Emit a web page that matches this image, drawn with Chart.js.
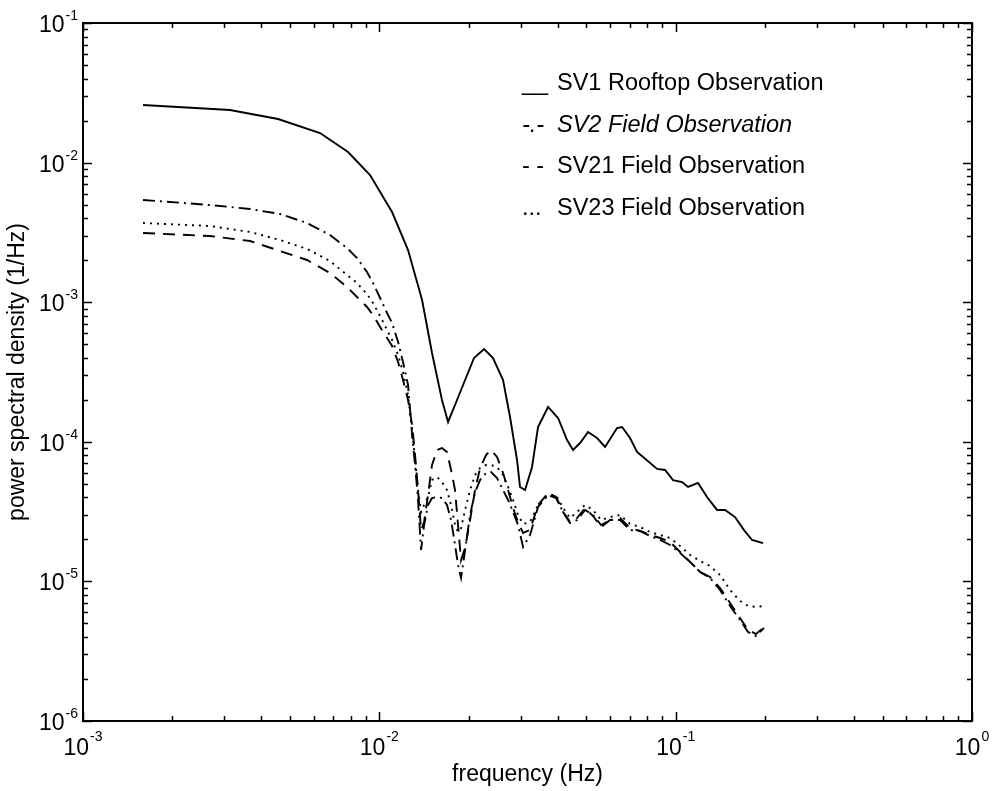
<!DOCTYPE html>
<html>
<head>
<meta charset="utf-8">
<script src="https://cdn.jsdelivr.net/npm/chart.js@4.4.1/dist/chart.umd.min.js"></script>
<style>
html,body{margin:0;padding:0;background:#fff;}
#wrap{width:993px;height:791px;position:relative;}
</style>
</head>
<body>
<div id="wrap"><canvas id="c" width="993" height="791"></canvas></div>
<script>
// ---- data ----
const frequencySV1 = [1.594e-3, 3.134e-3, 4.551e-3, 6.308e-3, 7.843e-3, 9.303e-3, 1.104e-2, 1.250e-2, 1.394e-2, 1.506e-2,
  1.627e-2, 1.706e-2, 1.829e-2, 1.947e-2, 2.087e-2, 2.256e-2, 2.419e-2, 2.615e-2, 2.761e-2, 2.915e-2,
  2.984e-2, 3.102e-2, 3.276e-2, 3.432e-2, 3.710e-2, 4.011e-2, 4.300e-2, 4.505e-2, 4.757e-2, 5.062e-2,
  5.429e-2, 5.777e-2, 6.342e-2, 6.593e-2, 7.015e-2, 7.407e-2, 7.762e-2, 8.654e-2, 9.210e-2, 9.799e-2,
  1.051e-1, 1.101e-1, 1.190e-1, 1.276e-1, 1.379e-1, 1.468e-1, 1.586e-1, 1.701e-1, 1.810e-1, 1.972e-1];
const psdSV1 = [2.586e-2, 2.380e-2, 2.052e-2, 1.629e-2, 1.191e-2, 8.148e-3, 4.426e-3, 2.365e-3, 1.037e-3, 4.326e-4,
  1.993e-4, 1.387e-4, 1.993e-4, 2.771e-4, 3.984e-4, 4.62e-4, 3.984e-4, 2.771e-4, 1.505e-4, 7.41e-5,
  4.745e-5, 4.516e-5, 6.60e-5, 1.276e-4, 1.776e-4, 1.481e-4, 1.030e-4, 8.73e-5, 9.80e-5, 1.176e-4,
  1.064e-4, 9.18e-5, 1.256e-4, 1.276e-4, 1.064e-4, 8.45e-5, 7.78e-5, 6.39e-5, 6.28e-5, 5.32e-5,
  5.15e-5, 4.745e-5, 5.07e-5, 4.02e-5, 3.25e-5, 3.25e-5, 2.89e-5, 2.33e-5, 1.98e-5, 1.88e-5];

const frequencyField = [1.594e-3, 2.683e-3, 3.661e-3, 4.623e-3, 5.702e-3, 6.817e-3, 7.780e-3, 8.408e-3, 9.087e-3, 9.522e-3,
  1.006e-2, 1.062e-2, 1.104e-2, 1.157e-2, 1.202e-2, 1.250e-2, 1.290e-2, 1.320e-2, 1.351e-2, 1.383e-2,
  1.416e-2, 1.460e-2, 1.506e-2, 1.566e-2, 1.627e-2, 1.692e-2, 1.746e-2, 1.801e-2, 1.843e-2, 1.887e-2,
  1.947e-2, 2.024e-2, 2.104e-2, 2.188e-2, 2.291e-2, 2.382e-2, 2.496e-2, 2.615e-2, 2.719e-2, 2.827e-2,
  2.938e-2, 3.055e-2, 3.226e-2, 3.432e-2, 3.710e-2, 3.949e-2, 4.169e-2, 4.401e-2, 4.647e-2, 4.946e-2,
  5.263e-2, 5.601e-2, 6.007e-2, 6.494e-2, 7.015e-2, 7.585e-2, 8.196e-2, 8.861e-2, 9.574e-2, 1.035e-1,
  1.119e-1, 1.209e-1, 1.306e-1, 1.412e-1, 1.526e-1, 1.649e-1, 1.755e-1, 1.867e-1, 1.987e-1];
const psdSV2 = [5.397e-3, 4.969e-3, 4.651e-3, 4.282e-3, 3.692e-3, 3.030e-3, 2.445e-3, 2.073e-3, 1.645e-3, 1.373e-3,
  1.072e-3, 8.367e-4, 7.096e-4, 5.186e-4, 3.729e-4, 2.552e-4, 1.119e-4, 6.821e-5, 3.829e-5, 1.679e-5,
  2.535e-5, 3.526e-5, 3.957e-5, 4.023e-5, 3.957e-5, 3.526e-5, 2.753e-5, 1.823e-5, 1.311e-5, 1.058e-5,
  1.679e-5, 2.990e-5, 4.369e-5, 5.326e-5, 5.977e-5, 6.077e-5, 5.504e-5, 4.515e-5, 3.829e-5, 3.142e-5,
  2.535e-5, 1.764e-5, 2.150e-5, 3.412e-5, 4.158e-5, 3.957e-5, 3.142e-5, 2.620e-5, 2.753e-5, 3.247e-5,
  2.990e-5, 2.535e-5, 2.753e-5, 2.753e-5, 2.335e-5, 2.296e-5, 2.115e-5, 1.980e-5, 1.823e-5, 1.597e-5,
  1.377e-5, 1.168e-5, 1.058e-5, 8.68e-6, 6.67e-6, 5.29e-6, 4.34e-6, 4.06e-6, 4.64e-6];
const psdSV21 = [3.131e-3, 2.980e-3, 2.744e-3, 2.327e-3, 2.006e-3, 1.619e-3, 1.285e-3, 1.089e-3, 9.239e-4, 8.096e-4,
  6.643e-4, 5.540e-4, 4.855e-4, 3.729e-4, 2.771e-4, 1.993e-4, 1.319e-4, 8.042e-5, 4.515e-5, 2.335e-5,
  2.664e-5, 4.158e-5, 6.821e-5, 8.737e-5, 9.029e-5, 8.452e-5, 6.281e-5, 4.515e-5, 2.535e-5, 1.423e-5,
  1.735e-5, 2.753e-5, 4.515e-5, 6.492e-5, 8.042e-5, 8.737e-5, 7.782e-5, 5.977e-5, 4.515e-5, 3.356e-5,
  2.664e-5, 2.222e-5, 2.335e-5, 3.526e-5, 4.297e-5, 4.023e-5, 3.142e-5, 2.664e-5, 2.846e-5, 3.356e-5,
  2.941e-5, 2.453e-5, 2.753e-5, 2.846e-5, 2.413e-5, 2.296e-5, 2.150e-5, 2.046e-5, 1.915e-5, 1.624e-5,
  1.377e-5, 1.168e-5, 1.075e-5, 8.97e-6, 7.00e-6, 5.47e-6, 4.49e-6, 4.20e-6, 4.71e-6];
const psdSV23 = [3.692e-3, 3.513e-3, 3.183e-3, 2.790e-3, 2.405e-3, 1.973e-3, 1.566e-3, 1.373e-3, 1.145e-3, 9.870e-4,
  7.963e-4, 6.323e-4, 5.360e-4, 4.185e-4, 3.162e-4, 2.164e-4, 1.215e-4, 7.406e-5, 4.515e-5, 3.142e-5,
  3.526e-5, 4.023e-5, 5.326e-5, 5.596e-5, 5.152e-5, 4.515e-5, 3.526e-5, 2.535e-5, 2.259e-5, 2.413e-5,
  3.247e-5, 4.515e-5, 5.783e-5, 6.492e-5, 6.821e-5, 6.821e-5, 6.600e-5, 5.783e-5, 4.745e-5, 3.829e-5,
  2.990e-5, 2.578e-5, 2.664e-5, 3.526e-5, 4.158e-5, 4.158e-5, 3.356e-5, 2.846e-5, 3.142e-5, 3.526e-5,
  3.247e-5, 2.753e-5, 2.893e-5, 2.990e-5, 2.578e-5, 2.453e-5, 2.259e-5, 2.150e-5, 2.046e-5, 1.793e-5,
  1.546e-5, 1.400e-5, 1.289e-5, 1.111e-5, 8.68e-6, 7.24e-6, 6.67e-6, 6.56e-6, 6.67e-6];

const seriesLabels = ['SV1 Rooftop Observation', 'SV2 Field Observation', 'SV21 Field Observation', 'SV23 Field Observation'];
const legendSymbols = ['__', '-.-', '- -', '...'];
const xAxisTitle = 'frequency (Hz)';
const yAxisTitle = 'power spectral density (1/Hz)';
const xExponents = [-3, -2, -1, 0];
const yExponents = [-6, -5, -4, -3, -2, -1];

// ---- chart ----
const FONT = '"Liberation Sans", Arial, Helvetica, sans-serif';
const pts = (xs, ys) => xs.map((v, i) => ({x: v, y: ys[i]}));

const decor = {
  id: 'decor',
  afterDraw(chart) {
    const {ctx, chartArea: a, scales: {x, y}} = chart;
    ctx.save();
    ctx.strokeStyle = '#000';
    ctx.fillStyle = '#000';
    ctx.lineWidth = 2;
    ctx.strokeRect(a.left, a.top, a.right - a.left, a.bottom - a.top);
    ctx.lineWidth = 1.5;
    ctx.beginPath();
    for (let e = xExponents[0]; e <= xExponents[xExponents.length - 1]; e++) {
      for (let m = 1; m <= 9; m++) {
        const v = m * Math.pow(10, e);
        if (v > x.max * 1.0001) break;
        const px = Math.round(x.getPixelForValue(v)) + 0.5;
        const len = m === 1 ? 9 : 5;
        ctx.moveTo(px, a.bottom); ctx.lineTo(px, a.bottom - len);
        ctx.moveTo(px, a.top); ctx.lineTo(px, a.top + len);
      }
    }
    for (let e = yExponents[0]; e <= yExponents[yExponents.length - 1]; e++) {
      for (let m = 1; m <= 9; m++) {
        const v = m * Math.pow(10, e);
        if (v > y.max * 1.0001) break;
        const py = Math.round(y.getPixelForValue(v)) + 0.5;
        const len = m === 1 ? 9 : 5;
        ctx.moveTo(a.left, py); ctx.lineTo(a.left + len, py);
        ctx.moveTo(a.right, py); ctx.lineTo(a.right - len, py);
      }
    }
    ctx.stroke();

    ctx.textBaseline = 'alphabetic';
    ctx.textAlign = 'left';
    const big = '23px ' + FONT, small = '14px ' + FONT;
    xExponents.forEach(e => {
      const px = x.getPixelForValue(Math.pow(10, e));
      ctx.font = big; const w1 = ctx.measureText('10').width;
      ctx.font = small; const w2 = ctx.measureText(String(e)).width;
      const start = px - (w1 + w2 + 1) / 2;
      ctx.font = big; ctx.fillText('10', start, a.bottom + 34);
      ctx.font = small; ctx.fillText(String(e), start + w1 + 1, a.bottom + 20);
    });
    yExponents.forEach(e => {
      const py = y.getPixelForValue(Math.pow(10, e));
      ctx.font = big; const w1 = ctx.measureText('10').width;
      ctx.font = small; const w2 = ctx.measureText(String(e)).width;
      const right = a.left - 5;
      ctx.font = small; ctx.fillText(String(e), right - w2, py - 3);
      ctx.font = big; ctx.fillText('10', right - w2 - 1 - w1, py + 9);
    });

    const rows = [90, 132, 173, 215];
    seriesLabels.forEach((lab, i) => {
      ctx.font = (i === 1 ? 'italic ' : '') + '23.5px ' + FONT;
      ctx.fillText(legendSymbols[i], 522, rows[i]);
      ctx.fillText(lab, 557, rows[i]);
    });
    ctx.restore();
  }
};

new Chart(document.getElementById('c'), {
  type: 'line',
  data: {
    datasets: [
      {label: seriesLabels[0], data: pts(frequencySV1, psdSV1), borderColor: '#000', borderWidth: 1.9, borderDash: []},
      {label: seriesLabels[1], data: pts(frequencyField, psdSV2), borderColor: '#000', borderWidth: 1.9, borderDash: [12, 5, 2, 5]},
      {label: seriesLabels[2], data: pts(frequencyField, psdSV21), borderColor: '#000', borderWidth: 1.9, borderDash: [12, 8]},
      {label: seriesLabels[3], data: pts(frequencyField, psdSV23), borderColor: '#000', borderWidth: 1.9, borderDash: [2, 5]}
    ]
  },
  options: {
    responsive: false,
    animation: false,
    devicePixelRatio: 1,
    layout: {padding: {top: 23, right: 21, left: 0, bottom: 0}},
    elements: {point: {radius: 0}, line: {tension: 0, fill: false}},
    plugins: {legend: {display: false}, tooltip: {enabled: false}},
    scales: {
      x: {
        type: 'logarithmic', min: 1e-3, max: 1,
        grid: {display: false}, border: {display: false},
        ticks: {display: false},
        title: {display: true, text: xAxisTitle, color: '#000', font: {family: FONT, size: 23}, padding: {top: 0, bottom: 3}},
        afterFit(s) { s.height = 70; }
      },
      y: {
        type: 'logarithmic', min: 1e-6, max: 1e-1,
        grid: {display: false}, border: {display: false},
        ticks: {display: false},
        title: {display: true, text: yAxisTitle, color: '#000', font: {family: FONT, size: 23}, padding: {top: 4, bottom: 0}},
        afterFit(s) { s.width = 83; }
      }
    }
  },
  plugins: [decor]
});
</script>
</body>
</html>
